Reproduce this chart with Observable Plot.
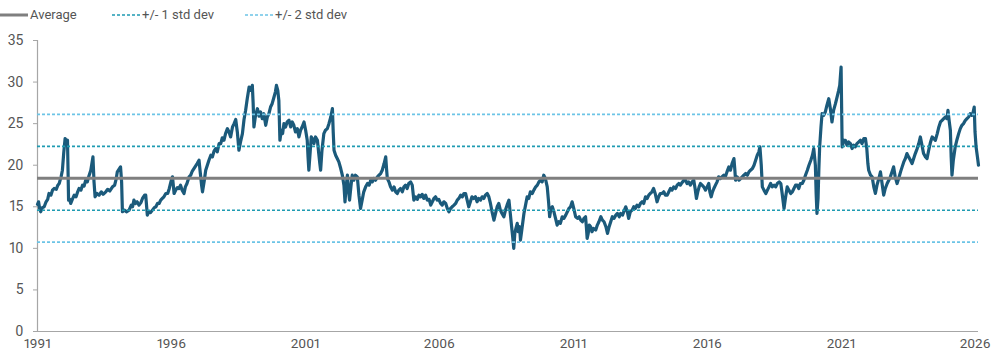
<!DOCTYPE html>
<html>
<head>
<meta charset="utf-8">
<script src="https://cdn.jsdelivr.net/npm/d3@7"></script>
<script src="https://cdn.jsdelivr.net/npm/@observablehq/plot@0.6"></script>
<style>
  body { margin: 0; background: #fff; font-family: Roboto, "Noto Sans", sans-serif; }
  #legend { position: relative; width: 1000px; height: 30px; font-size: 13px; color: #555; }
  #legend .item { position: absolute; top: 0; height: 30px; }
  #legend svg { position: absolute; top: 0; }
  #legend span { position: absolute; top: 7px; white-space: nowrap; }
  #chart svg text { font-variant-numeric: proportional-nums; font-feature-settings: "pnum" 1; }
</style>
</head>
<body>
<div id="legend"></div>
<div id="chart"></div>
<script>
// ---- data ----
const dates = [
1991.00,1991.04,1991.08,1991.12,1991.18,1991.25,1991.32,1991.38,1991.43,1991.50,1991.56,1991.62,1991.70,1991.76,1991.81,1991.88,1991.93,1991.98,
1992.03,1992.08,1992.12,1992.16,1992.20,1992.24,1992.30,1992.37,1992.44,1992.50,1992.55,1992.62,1992.68,1992.74,1992.80,1992.86,1992.92,1992.99,
1993.04,1993.07,1993.11,1993.15,1993.22,1993.30,1993.38,1993.45,1993.55,1993.62,1993.70,1993.80,1993.88,1993.94,1993.98,
1994.04,1994.10,1994.14,1994.17,1994.24,1994.32,1994.42,1994.50,1994.55,1994.60,1994.66,1994.72,1994.79,1994.86,1994.92,
1995.00,1995.04,1995.10,1995.16,1995.22,1995.29,1995.36,1995.42,1995.48,1995.54,1995.60,1995.66,1995.72,1995.79,1995.86,1995.92,1995.98,
1996.04,1996.10,1996.16,1996.22,1996.28,1996.34,1996.40,1996.47,1996.52,1996.58,1996.66,1996.72,1996.78,1996.84,1996.90,1996.96,
1997.03,1997.08,1997.13,1997.16,1997.22,1997.28,1997.34,1997.40,1997.47,1997.53,1997.59,1997.65,1997.71,1997.78,1997.84,1997.90,1997.96,
1998.02,1998.09,1998.15,1998.21,1998.28,1998.34,1998.40,1998.46,1998.52,1998.58,1998.65,1998.71,1998.77,1998.83,1998.90,1998.96,
1999.02,1999.05,1999.08,1999.14,1999.21,1999.27,1999.33,1999.39,1999.45,1999.52,1999.58,1999.64,1999.70,1999.76,1999.83,1999.88,1999.92,1999.97,
2000.01,2000.05,2000.10,2000.15,2000.20,2000.26,2000.32,2000.39,2000.45,2000.51,2000.57,2000.63,2000.70,2000.76,2000.82,2000.88,2000.95,
2001.01,2001.07,2001.10,2001.13,2001.18,2001.22,2001.26,2001.32,2001.38,2001.45,2001.50,2001.54,2001.57,2001.62,2001.69,2001.75,2001.82,2001.88,2001.95,
2002.01,2002.04,2002.07,2002.13,2002.19,2002.25,2002.32,2002.38,2002.44,2002.48,2002.52,2002.57,2002.61,2002.65,2002.70,2002.75,2002.81,2002.87,2002.94,
2003.00,2003.06,2003.12,2003.18,2003.25,2003.32,2003.38,2003.44,2003.50,2003.56,2003.62,2003.69,2003.75,2003.81,2003.87,2003.94,
2004.00,2004.03,2004.06,2004.12,2004.18,2004.25,2004.31,2004.37,2004.43,2004.49,2004.55,2004.62,2004.68,2004.74,2004.80,2004.86,2004.93,2004.99,
2005.05,2005.12,2005.18,2005.24,2005.30,2005.36,2005.42,2005.49,2005.55,2005.62,2005.68,2005.74,2005.80,2005.86,2005.92,2005.98,
2006.05,2006.11,2006.17,2006.24,2006.30,2006.36,2006.42,2006.48,2006.55,2006.61,2006.67,2006.73,2006.80,2006.86,2006.92,2006.98,
2007.04,2007.10,2007.16,2007.22,2007.28,2007.35,2007.41,2007.47,2007.54,2007.60,2007.66,2007.72,2007.79,2007.85,2007.91,2007.97,
2008.04,2008.10,2008.16,2008.22,2008.28,2008.34,2008.41,2008.47,2008.53,2008.60,2008.65,2008.70,2008.74,2008.78,2008.82,2008.86,2008.91,2008.95,
2009.00,2009.03,2009.08,2009.12,2009.16,2009.22,2009.28,2009.34,2009.40,2009.47,2009.53,2009.60,2009.66,2009.72,2009.78,2009.84,2009.90,2009.96,
2010.03,2010.08,2010.12,2010.17,2010.22,2010.28,2010.34,2010.40,2010.46,2010.52,2010.59,2010.65,2010.72,2010.78,2010.84,2010.90,2010.96,
2011.02,2011.09,2011.16,2011.22,2011.28,2011.34,2011.40,2011.46,2011.49,2011.52,2011.56,2011.60,2011.65,2011.70,2011.76,2011.84,2011.90,2011.96,
2012.03,2012.09,2012.15,2012.22,2012.28,2012.34,2012.40,2012.46,2012.52,2012.59,2012.65,2012.72,2012.77,2012.84,2012.90,2012.96,
2013.02,2013.07,2013.13,2013.20,2013.26,2013.32,2013.38,2013.45,2013.51,2013.57,2013.63,2013.70,2013.76,2013.82,2013.88,2013.94,
2014.00,2014.06,2014.13,2014.19,2014.25,2014.32,2014.38,2014.44,2014.51,2014.57,2014.63,2014.69,2014.75,2014.82,2014.88,2014.94,
2015.00,2015.06,2015.13,2015.19,2015.25,2015.31,2015.37,2015.44,2015.50,2015.55,2015.60,2015.65,2015.70,2015.75,2015.81,2015.87,2015.94,
2016.00,2016.06,2016.10,2016.15,2016.20,2016.25,2016.31,2016.37,2016.43,2016.49,2016.55,2016.62,2016.68,2016.74,2016.81,2016.87,2016.93,
2017.00,2017.03,2017.06,2017.12,2017.19,2017.25,2017.31,2017.37,2017.44,2017.50,2017.56,2017.62,2017.69,2017.75,2017.81,2017.87,2017.93,2017.97,
2018.02,2018.06,2018.12,2018.19,2018.25,2018.31,2018.37,2018.43,2018.50,2018.56,2018.62,2018.69,2018.75,2018.80,2018.87,2018.92,2018.99,
2019.05,2019.12,2019.18,2019.24,2019.30,2019.36,2019.42,2019.48,2019.55,2019.61,2019.67,2019.74,2019.80,2019.87,2019.93,2019.98,
2020.04,2020.07,2020.10,2020.14,2020.17,2020.20,2020.25,2020.29,2020.35,2020.41,2020.47,2020.54,2020.60,2020.66,2020.72,2020.79,2020.85,2020.91,2020.95,
2021.00,2021.02,2021.04,2021.10,2021.16,2021.22,2021.28,2021.35,2021.41,2021.47,2021.53,2021.59,2021.66,2021.72,2021.78,2021.85,2021.91,2021.96,
2022.00,2022.03,2022.10,2022.16,2022.22,2022.28,2022.34,2022.41,2022.47,2022.53,2022.59,2022.65,2022.72,2022.78,2022.84,2022.90,2022.96,
2023.02,2023.09,2023.15,2023.22,2023.28,2023.34,2023.40,2023.46,2023.52,2023.59,2023.65,2023.71,2023.77,2023.84,2023.90,2023.96,
2024.02,2024.08,2024.15,2024.21,2024.27,2024.34,2024.40,2024.46,2024.52,2024.59,2024.65,2024.71,2024.77,2024.83,2024.89,2024.95,2024.99,
2025.04,2025.08,2025.11,2025.14,2025.19,2025.26,2025.32,2025.39,2025.45,2025.51,2025.57,2025.64,2025.70,2025.76,2025.82,2025.88,2025.93,2025.97,
2026.00,2026.04,2026.09,2026.13
];
const values = [
15.3,15.6,14.8,14.4,14.9,15.0,15.6,15.9,16.6,16.4,17.0,17.2,17.1,17.6,17.8,18.6,19.4,21.5,
23.2,22.9,23.0,15.8,15.9,15.4,15.9,16.4,16.2,16.8,17.2,17.0,17.6,17.5,18.2,18.0,18.7,19.4,
20.4,21.0,18.0,16.2,16.6,16.4,16.8,16.5,16.8,17.1,16.9,17.4,17.6,18.4,19.2,
19.5,19.8,18.0,14.4,14.6,14.4,14.6,15.2,15.0,15.8,15.4,15.6,15.2,15.5,16.0,
16.4,16.4,14.0,14.4,14.3,14.6,14.9,15.0,15.4,15.4,15.8,16.0,16.2,16.6,16.6,17.2,18.0,
18.6,16.6,17.0,17.3,17.2,17.6,17.0,16.6,17.4,17.8,18.6,18.8,19.3,19.6,19.9,20.2,
20.6,19.0,17.5,16.8,18.0,19.4,20.0,20.6,21.2,21.0,21.7,22.0,21.6,22.6,22.6,23.3,23.0,
23.8,24.4,24.0,23.4,24.6,25.0,25.5,24.0,21.8,22.8,23.8,25.5,26.6,28.0,29.4,29.0,
29.6,27.5,24.6,26.0,26.8,25.9,26.4,25.6,26.2,24.8,25.8,26.2,27.0,27.4,28.2,28.8,29.6,29.0,
27.8,23.0,24.2,23.8,25.0,24.6,25.2,25.4,24.6,25.2,24.8,24.0,24.4,23.4,24.2,24.6,25.2,
24.2,23.0,21.0,19.4,21.6,23.4,23.2,22.6,23.4,23.0,21.4,20.2,19.4,21.8,23.8,24.2,24.4,25.0,25.8,
26.8,24.0,21.8,21.2,20.8,20.4,19.6,18.8,17.6,15.6,17.4,18.8,17.0,15.8,17.4,18.8,18.2,18.8,18.6,
16.4,14.8,15.8,16.8,17.4,17.8,17.6,18.2,18.0,18.4,18.2,18.6,18.8,19.0,19.4,20.2,
21.0,19.6,18.4,18.0,17.4,17.0,17.4,16.8,16.6,17.0,17.2,16.8,17.4,17.6,17.2,17.8,18.0,17.6,
15.8,16.2,15.9,16.4,16.2,16.5,16.0,16.4,15.8,15.9,15.2,15.6,16.0,16.2,15.8,15.9,
15.4,15.2,15.6,15.4,14.8,14.4,14.8,15.0,15.2,15.4,15.8,16.0,16.4,16.2,16.6,16.6,
15.8,15.0,15.6,16.2,16.0,16.2,15.6,16.0,15.8,16.2,16.0,16.4,16.6,16.2,15.4,14.4,
13.4,14.2,15.0,15.4,14.6,14.2,13.8,14.6,15.2,15.8,14.2,12.6,11.4,10.0,11.8,12.4,13.0,12.0,
12.6,11.0,12.2,13.2,14.2,15.2,16.2,16.0,16.8,16.6,17.0,17.4,17.6,18.0,18.2,18.0,18.8,18.4,
17.4,15.6,13.8,14.8,15.0,14.4,13.6,12.8,13.2,13.0,13.8,13.6,14.0,14.4,14.8,15.0,15.6,
14.8,13.8,13.6,13.8,13.4,13.2,13.6,13.8,12.6,11.2,11.8,12.8,12.6,12.0,12.4,12.2,12.8,13.2,
13.8,13.4,13.2,12.6,11.8,12.6,13.2,13.8,13.6,14.0,14.2,13.8,14.2,14.0,14.5,15.0,
14.4,13.6,14.4,14.6,15.0,14.8,15.2,15.0,15.4,15.6,15.4,16.2,16.0,16.4,16.6,16.8,
17.2,16.6,15.6,16.2,16.6,16.6,16.8,16.4,16.4,16.8,17.2,17.0,17.4,17.2,17.6,17.8,
17.6,17.9,18.2,18.2,17.8,18.0,17.6,18.0,18.2,17.2,16.0,16.8,17.4,17.8,17.6,17.4,17.0,
17.4,17.8,16.8,16.2,16.8,17.2,17.6,18.0,18.6,18.4,18.6,18.8,18.6,19.2,19.8,19.4,20.2,
20.8,19.6,18.2,18.6,18.2,18.4,18.6,18.8,19.0,18.8,19.2,19.4,19.6,20.0,20.6,21.2,21.6,22.2,
20.0,17.4,17.0,16.6,17.0,17.4,17.8,17.4,17.6,17.4,17.8,18.0,17.8,16.6,14.8,16.0,17.4,
17.0,16.6,16.8,17.2,17.6,17.6,17.2,17.8,17.8,18.2,18.8,19.4,20.0,20.6,21.2,22.0,
20.0,16.5,14.2,16.0,19.5,22.2,24.6,26.2,26.0,26.4,27.2,28.0,26.8,25.2,26.6,27.4,28.2,29.0,29.6,
31.8,27.0,22.2,23.0,23.0,22.4,22.8,22.6,22.0,22.4,22.2,22.6,22.8,23.0,22.6,23.2,23.2,22.0,
20.2,19.4,18.8,18.6,17.4,16.6,17.6,18.4,19.2,17.8,16.4,17.2,17.8,18.2,18.6,19.2,19.8,
18.6,17.8,18.4,19.2,19.8,20.4,20.8,21.4,21.0,20.6,20.2,20.8,21.4,22.0,22.6,23.4,
22.4,21.4,21.0,20.8,21.8,22.8,23.4,23.2,23.0,23.8,24.6,25.2,25.4,25.6,25.8,25.6,26.6,
25.2,24.2,21.0,18.8,20.6,22.2,23.0,23.8,24.4,24.8,25.0,25.4,25.6,25.8,26.2,26.0,26.4,27.0,
24.0,22.2,21.0,20.0
];
const average = 18.43;
const std1 = [14.59, 22.27];
const std2 = [10.75, 26.11];
const yTicks = [0, 5, 10, 15, 20, 25, 30, 35];
const xTicks = [1991, 1996, 2001, 2006, 2011, 2016, 2021, 2026];
const legendItems = [
  {label: "Average", kind: "avg"},
  {label: "+/- 1 std dev", kind: "sd1"},
  {label: "+/- 2 std dev", kind: "sd2"}
];

// ---- styles ----
const C_LINE = "#1b5a7b", C_AVG = "#7f7f7f", C_SD1 = "#1f9bb2", C_SD2 = "#6cc4e6", C_AXIS = "#a6a6a6", C_TEXT = "#555";
const styleOf = {
  avg: {stroke: C_AVG, width: 3, dash: null},
  sd1: {stroke: C_SD1, width: 1.6, dash: "3,2"},
  sd2: {stroke: C_SD2, width: 1.6, dash: "3,2"}
};

const data = dates.map((d, i) => ({x: d, y: values[i]}));

// ---- legend ----
const legendX = [0, 112, 245];
const leg = document.getElementById("legend");
legendItems.forEach((it, i) => {
  const s = styleOf[it.kind];
  const div = document.createElement("div");
  div.className = "item";
  div.style.left = legendX[i] + "px";
  div.innerHTML = `<svg width="30" height="30"><line x1="0" x2="28" y1="15" y2="15" stroke="${s.stroke}" stroke-width="${s.width}" ${s.dash ? `stroke-dasharray="${s.dash}"` : ""}/></svg><span style="left:30px">${it.label}</span>`;
  leg.appendChild(div);
});

// ---- chart ----
const chart = Plot.plot({
  width: 1000,
  height: 330,
  marginTop: 10,
  marginBottom: 29,
  marginLeft: 37,
  marginRight: 22,
  style: {fontFamily: "Roboto, 'Noto Sans', sans-serif", fontSize: "14px", color: C_TEXT, background: "#fff"},
  x: {domain: [1991, 2026.13], ticks: xTicks, tickFormat: d => String(d), label: null},
  y: {domain: [0, 35], ticks: yTicks, label: null},
  marks: [
    Plot.axisY({ticks: yTicks, tickSize: 4, tickPadding: 10, stroke: C_AXIS, fill: C_TEXT, fontSize: 14, label: null}),
    Plot.axisX({ticks: xTicks, tickSize: 0, tickPadding: 7, fill: C_TEXT, fontSize: 13.5, tickFormat: d => String(d), label: null}),
    Plot.ruleX([1991], {stroke: C_AXIS, strokeWidth: 1.2}),
    Plot.ruleY([0], {stroke: C_AXIS, strokeWidth: 1.2}),
    Plot.line(data, {x: "x", y: "y", stroke: C_LINE, strokeWidth: 3.2, strokeLinejoin: "round"}),
    Plot.ruleY(std2, {stroke: C_SD2, strokeWidth: 1.6, strokeDasharray: "3,2"}),
    Plot.ruleY(std1, {stroke: C_SD1, strokeWidth: 1.6, strokeDasharray: "3,2"}),
    Plot.ruleY([average], {stroke: C_AVG, strokeWidth: 3})
  ]
});
document.getElementById("chart").appendChild(chart);
</script>
</body>
</html>
